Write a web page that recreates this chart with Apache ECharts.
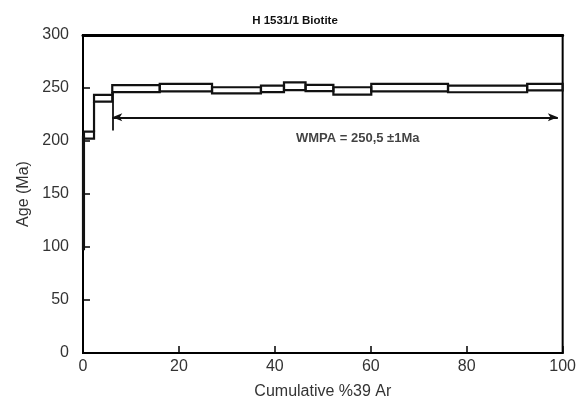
<!DOCTYPE html>
<html>
<head>
<meta charset="utf-8">
<script src="https://cdn.jsdelivr.net/npm/echarts@6/dist/echarts.min.js"></script>
<style>
html,body{margin:0;padding:0;background:#fff;}
#chart{width:579px;height:405px;}
</style>
</head>
<body>
<div id="chart"></div>
<script>
// step edges, cumulative %39Ar
var stepEdges = [0, 0.2, 2.3, 6.1, 16.0, 26.9, 37.1, 41.9, 46.4, 52.2, 60.1, 76.1, 92.6, 100];
// apparent age of each step (Ma) and its error
var stepAges = [151, 205.5, 240.3, 249.5, 250.3, 247.8, 249.2, 251.7, 250.0, 247.2, 250.3, 249.1, 250.8];
var stepErrs = [53, 3.3, 3.2, 3.3, 3.5, 2.9, 3.0, 3.7, 3.0, 3.5, 3.5, 3.1, 3.0];
// plateau (WMPA) marker
var plateauStart = 6.1;
var plateauEnd = 99;
var plateauArrowAge = 222.4;
var plateauLabel = 'WMPA = 250,5 \u00b11Ma';
var xTicks = [0, 20, 40, 60, 80, 100];
var yTicks = [0, 50, 100, 150, 200, 250, 300];

var boxes = [];
for (var i = 0; i < stepAges.length; i++) {
    boxes.push([stepEdges[i], stepEdges[i + 1], stepAges[i] - stepErrs[i], stepAges[i] + stepErrs[i]]);
}

var myChart = echarts.init(document.getElementById('chart'));
var option = {
    animation: false,
    backgroundColor: '#fff',
    title: {
        text: 'H 1531/1 Biotite',
        left: 290,
        textAlign: 'center',
        top: 10,
        textStyle: {fontFamily: 'Liberation Sans', fontSize: 11.5, fontWeight: 'bold', color: '#111'}
    },
    grid: {
        left: 83, right: 14, top: 35, bottom: 52,
        show: true, borderColor: '#000', borderWidth: 2
    },
    xAxis: [{
        type: 'value',
        min: xTicks[0], max: xTicks[xTicks.length - 1], interval: 20,
        name: 'Cumulative %39 Ar',
        nameLocation: 'middle',
        nameGap: 31,
        nameTextStyle: {fontFamily: 'Liberation Sans', fontSize: 16, color: '#333'},
        axisLine: {lineStyle: {color: '#000', width: 2}},
        axisTick: {inside: true, length: 7, lineStyle: {color: '#000', width: 1.5}},
        axisLabel: {fontFamily: 'Liberation Sans', fontSize: 16, color: '#333', margin: 6},
        splitLine: {show: false}
    }, {
        type: 'value', position: 'top',
        min: 0, max: 100,
        axisLine: {show: true, lineStyle: {color: '#000', width: 3}},
        axisTick: {show: false}, axisLabel: {show: false}, splitLine: {show: false}
    }],
    yAxis: {
        type: 'value',
        min: yTicks[0], max: yTicks[yTicks.length - 1], interval: 50,
        name: 'Age (Ma)',
        nameLocation: 'middle',
        nameGap: 51,
        nameTextStyle: {fontFamily: 'Liberation Sans', fontSize: 16, color: '#333'},
        axisLine: {lineStyle: {color: '#000', width: 2}},
        axisTick: {inside: true, length: 7, lineStyle: {color: '#000', width: 1.5}},
        axisLabel: {fontFamily: 'Liberation Sans', fontSize: 16, color: '#333', margin: 14},
        splitLine: {show: false}
    },
    series: [{
        type: 'custom',
        xAxisIndex: 0,
        renderItem: function (params, api) {
            var idx = params.dataIndex;
            var p1 = api.coord([api.value(0), api.value(3)]);
            var p2 = api.coord([api.value(1), api.value(2)]);
            var children = [{
                type: 'rect',
                shape: {x: p1[0], y: p1[1], width: p2[0] - p1[0], height: p2[1] - p1[1]},
                style: {fill: 'none', stroke: '#111', lineWidth: 2.2}
            }];
            if (idx > 0) {
                // riser joining this step to the previous one
                var prev = boxes[idx - 1];
                var a = api.coord([api.value(0), prev[3]]);
                var b = api.coord([api.value(0), api.value(2)]);
                if (a[1] > b[1]) {
                    children.push({
                        type: 'line',
                        shape: {x1: a[0], y1: a[1], x2: b[0], y2: b[1]},
                        style: {stroke: '#111', lineWidth: 2.2}
                    });
                }
            }
            return {type: 'group', children: children};
        },
        data: boxes,
        markLine: {
            silent: true,
            symbol: ['none', 'none'],
            label: {show: false},
            lineStyle: {color: '#111', width: 1.8, type: 'solid'},
            data: [
                [{coord: [plateauStart, plateauArrowAge], symbol: 'arrow', symbolSize: [6, 10], symbolRotate: 90},
                 {coord: [plateauEnd, plateauArrowAge], symbol: 'arrow', symbolSize: [6, 10]}],
                [{coord: [plateauStart, stepAges[3] - stepErrs[3]]}, {coord: [plateauStart, 210]}]
            ]
        }
    }, {
        type: 'scatter',
        symbolSize: 0,
        silent: true,
        data: [[44.4, 202]],
        label: {
            show: true,
            formatter: plateauLabel,
            position: 'right',
            distance: 0,
            fontFamily: 'Liberation Sans',
            fontSize: 13,
            fontWeight: 'bold',
            color: '#111'
        }
    }]
};
myChart.setOption(option);
</script>
</body>
</html>
